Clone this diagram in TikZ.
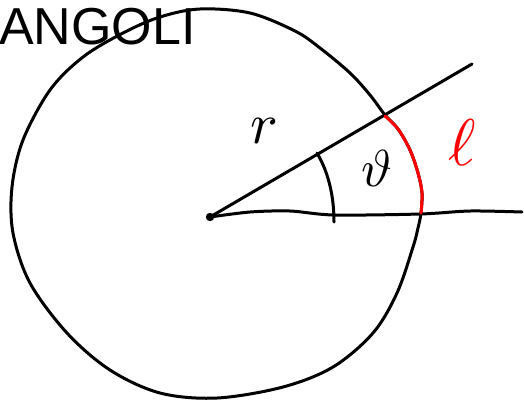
\documentclass[tikz,border=0pt]{standalone}
\usepackage{fontspec}
\setmainfont{Liberation Sans}
\usepackage{unicode-math}
\setmathfont{Latin Modern Math}
\begin{document}
\begin{tikzpicture}[x=1pt,y=-1pt,
  pen/.style={line width=3pt,line cap=round,line join=round},
  redpen/.style={pen,draw=red},
  lbl/.style={inner sep=0pt}]
\useasboundingbox (0,0) rectangle (524,405);
\fill[white] (0,0) rectangle (524,405);
% title
\node[lbl,anchor=base west,font=\fontsize{52}{52}\selectfont] (title) at (-1,44) {ANGOLI};
% circle
\draw[pen] plot[smooth cycle,tension=0.55] coordinates {
 (200,9) (250,13) (295,31) (320,48) (350,73) (370,95) (385,115) (398,129) (410,150)
 (418,173) (422,193) (421,213) (418,228)
 (413,247) (397,293) (373,333) (333,367) (283,387) (217,398) (160,393)
 (110,370) (67,333) (30,283) (13,233) (12,187) (23,140) (50,90) (83,57)
 (123,33) (160,17)};
% centre
\coordinate (O) at (210,217);
\fill (O) circle (4.2pt);
\coordinate (P) at (472,64);
\draw[pen] (O) -- (P);
\draw[pen] plot[smooth,tension=0.5] coordinates {(O) (250,212) (290,211) (334,215) (420,214) (470,211) (522,212)};
% angle arc
\draw[pen] (317,153) .. controls (330,175) and (334,200) .. (334,222);
% red arc
\draw[redpen] plot[smooth,tension=0.55] coordinates {(385,116) (398,129) (410,150) (418,173) (422,193) (421,213)};
% labels
\node[lbl,font=\fontsize{58}{58}\selectfont] (r) at (264,131) {$r$};
\node[lbl,font=\fontsize{52}{52}\selectfont] (th) at (377,168) {$\vartheta$};
\node[lbl,text=red,font=\fontsize{66}{66}\selectfont] (l) at (463,143) {$\ell$};
\end{tikzpicture}
\end{document}
